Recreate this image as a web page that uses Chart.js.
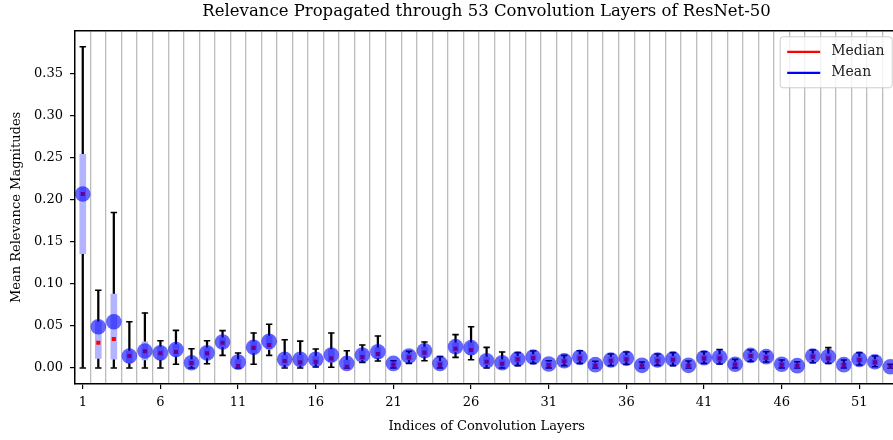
<!DOCTYPE html>
<html>
<head>
<meta charset="utf-8">
<script src="https://cdn.jsdelivr.net/npm/chart.js@4/dist/chart.umd.min.js"></script>
<style>
  html, body { margin: 0; padding: 0; overflow: hidden; background: #fff; }
  canvas { display: block; }
</style>
</head>
<body>
<canvas id="relevance-chart" width="906" height="440"></canvas>
<script>
// layer indices 1..53
const layers = Array.from({ length: 53 }, (_, i) => i + 1);

// per layer stats of relevance magnitudes
const whiskerLow = [0, 0, 0, 0, 0, 0, 0.0044, 0, 0.005, 0.015, 0, 0.0044, 0.015, 0, 0, 0.0012, 0.001, 0, 0.0067, 0.0083,
  0, 0.0055, 0.0087, 0, 0.0127, 0.0099, 0, 0, 0.0028, 0.0055, 0, 0.0028, 0.0055, 0, 0.0028, 0.0044, 0, 0.0032, 0.0028, 0,
  0.0055, 0.0048, 0, 0.008, 0.0071, 0, 0, 0.0063, 0.0055, 0, 0.0036, 0.0016, 0];
const whiskerHigh = [0.382, 0.0925, 0.185, 0.055, 0.0655, 0.0325, 0.0448, 0.023, 0.0325, 0.0445, 0.0178, 0.0417, 0.052, 0.0337, 0.032, 0.0226, 0.0417, 0.0206, 0.0274, 0.038,
  0.0087, 0.0198, 0.031, 0.0135, 0.0397, 0.049, 0.0246, 0.019, 0.0183, 0.0202, 0.0087, 0.015, 0.0206, 0.008, 0.0167, 0.019, 0.0071, 0.0167, 0.0183, 0.0083,
  0.0194, 0.022, 0.0103, 0.0214, 0.0194, 0.0095, 0.0075, 0.0214, 0.0242, 0.0095, 0.0183, 0.0143, 0.0044];
const quartileLow = [0.136, 0.0115, 0.0104, 0.006, 0.0095, 0.010, 0.014, 0.003, 0.012, 0.025, 0.001, 0.018, 0.022, 0.004, 0.003, 0.005, 0.007, 0.001, 0.010, 0.012,
  0.002, 0.010, 0.014, 0.002, 0.019, 0.016, 0.004, 0.002, 0.007, 0.009, 0.002, 0.006, 0.009, 0.001, 0.006, 0.008, 0.001, 0.006, 0.007, 0.001,
  0.009, 0.008, 0.002, 0.011, 0.010, 0.002, 0.001, 0.010, 0.009, 0.002, 0.007, 0.004, 0.0005];
const quartileHigh = [0.254, 0.055, 0.088, 0.020, 0.031, 0.025, 0.028, 0.010, 0.024, 0.036, 0.010, 0.031, 0.038, 0.015, 0.015, 0.014, 0.022, 0.009, 0.020, 0.024,
  0.007, 0.017, 0.025, 0.008, 0.030, 0.030, 0.013, 0.010, 0.014, 0.016, 0.007, 0.011, 0.016, 0.006, 0.013, 0.015, 0.005, 0.013, 0.014, 0.005,
  0.015, 0.016, 0.007, 0.018, 0.016, 0.007, 0.005, 0.017, 0.017, 0.006, 0.013, 0.010, 0.003];
const medians = [0.207, 0.030, 0.0345, 0.0143, 0.020, 0.0175, 0.019, 0.006, 0.0175, 0.030, 0.0024, 0.024, 0.0274, 0.0083, 0.0067, 0.0075, 0.0115, 0.0016, 0.013, 0.0167,
  0.004, 0.0127, 0.0183, 0.004, 0.023, 0.0214, 0.0075, 0.005, 0.0103, 0.012, 0.0036, 0.008, 0.0115, 0.0028, 0.0087, 0.0103, 0.003, 0.0087, 0.0099, 0.003,
  0.0115, 0.0115, 0.004, 0.0143, 0.0123, 0.004, 0.0025, 0.0135, 0.0115, 0.0038, 0.0095, 0.0067, 0.0015];
const means = [0.207, 0.049, 0.055, 0.0143, 0.0202, 0.018, 0.022, 0.0063, 0.018, 0.031, 0.007, 0.0246, 0.0317, 0.0103, 0.0103, 0.0103, 0.0155, 0.0055, 0.0155, 0.0194,
  0.0055, 0.0143, 0.0206, 0.0055, 0.0254, 0.0242, 0.0087, 0.0063, 0.0107, 0.013, 0.0048, 0.0087, 0.0127, 0.004, 0.0095, 0.0115, 0.0032, 0.0095, 0.0107, 0.0032,
  0.0123, 0.0127, 0.0044, 0.015, 0.0135, 0.0044, 0.0028, 0.0143, 0.0135, 0.004, 0.0103, 0.0075, 0.0016];

const xTicks = [1, 6, 11, 16, 21, 26, 31, 36, 41, 46, 51];
const yTicks = [0, 0.05, 0.10, 0.15, 0.20, 0.25, 0.30, 0.35];
const gridLines = layers.slice(0, 52).map(v => v + 0.5);

const serif = '"DejaVu Serif", serif';

// legend box in the upper right corner of the plot
const cornerLegend = {
  id: 'cornerLegend',
  afterDraw(chart) {
    const { ctx, chartArea } = chart;
    const right = chartArea.right - 6, top = chartArea.top + 6;
    const w = 112, h = 51;
    const left = right - w;
    ctx.save();
    ctx.beginPath();
    ctx.roundRect(left, top, w, h, 3);
    ctx.fillStyle = 'rgba(255,255,255,0.8)';
    ctx.fill();
    ctx.strokeStyle = '#cccccc';
    ctx.lineWidth = 1;
    ctx.stroke();
    const items = [['Median', '#ff0000'], ['Mean', '#0000ff']];
    ctx.font = '14px ' + serif;
    ctx.textBaseline = 'middle';
    items.forEach(([label, color], i) => {
      const y = top + 15 + i * 21;
      ctx.beginPath();
      ctx.moveTo(left + 7, y);
      ctx.lineTo(left + 40, y);
      ctx.strokeStyle = color;
      ctx.lineWidth = 2.2;
      ctx.stroke();
      ctx.fillStyle = '#222';
      ctx.fillText(label, left + 51, y);
    });
    ctx.restore();
  }
};

new Chart(document.getElementById('relevance-chart'), {
  type: 'scatter',
  data: {
    datasets: [
      {
        label: 'Mean',
        data: layers.map((x, i) => ({ x, y: means[i] })),
        pointRadius: 7.8,
        pointBackgroundColor: 'rgba(0,0,255,0.6)',
        pointBorderWidth: 0,
        order: 0
      },
      {
        label: 'Median',
        data: layers.map((x, i) => ({ x, y: medians[i] })),
        pointStyle: 'rect',
        pointRadius: 2.9,
        pointBackgroundColor: '#ff0000',
        pointBorderWidth: 0,
        order: 1
      },
      {
        type: 'bar',
        label: 'IQR',
        data: layers.map((x, i) => ({ x, y: [quartileLow[i], quartileHigh[i]] })),
        backgroundColor: '#b3b3ff',
        barThickness: 6,
        grouped: false,
        order: 2
      },
      {
        label: 'caps',
        data: layers.map((x, i) => ({ x, y: whiskerLow[i] }))
          .concat(layers.map((x, i) => ({ x, y: whiskerHigh[i] }))),
        pointStyle: 'line',
        pointRadius: 3.2,
        pointBorderColor: '#000',
        pointBorderWidth: 1.6,
        order: 3
      },
      {
        type: 'bar',
        label: 'range',
        data: layers.map((x, i) => ({ x, y: [whiskerLow[i], whiskerHigh[i]] })),
        backgroundColor: '#000',
        barThickness: 1.6,
        grouped: false,
        order: 4
      }
    ]
  },
  options: {
    responsive: false,
    animation: false,
    events: [],
    layout: { padding: { left: 0, right: 3, top: 0, bottom: 0 } },
    plugins: {
      legend: { display: false },
      tooltip: { enabled: false },
      title: {
        display: true,
        fullSize: false,
        text: 'Relevance Propagated through 53 Convolution Layers of ResNet-50',
        color: '#000',
        font: { family: serif, size: 16.5, weight: 'normal' },
        padding: { top: 2, bottom: 9 }
      }
    },
    scales: {
      x: {
        type: 'linear',
        position: 'bottom',
        offset: false,
        min: 0.5,
        max: 53.5,
        afterBuildTicks: axis => { axis.ticks = xTicks.map(value => ({ value })); },
        afterFit: axis => { axis.height = 56; },
        ticks: {
          autoSkip: false,
          maxRotation: 0,
          padding: 6,
          color: '#000',
          font: { family: serif, size: 13 },
          callback: v => String(v)
        },
        grid: { offset: false, drawOnChartArea: false, drawTicks: true, tickLength: 5, color: '#000', lineWidth: 1.2 },
        border: { display: true, color: '#000', width: 1.5 },
        title: {
          display: true,
          text: 'Indices of Convolution Layers',
          color: '#000',
          font: { family: serif, size: 13 },
          padding: { top: 0, bottom: 6 }
        }
      },
      x2: {
        type: 'linear',
        position: 'top',
        offset: false,
        min: 0.5,
        max: 53.5,
        afterBuildTicks: axis => { axis.ticks = gridLines.map(value => ({ value })); },
        afterFit: axis => { axis.height = 0; },
        ticks: { display: false },
        grid: { offset: false, drawTicks: false, color: '#bcbcbc', lineWidth: 1.3 },
        border: { display: true, color: '#000', width: 1.5 }
      },
      y: {
        type: 'linear',
        min: -0.019,
        max: 0.401,
        afterBuildTicks: axis => { axis.ticks = yTicks.map(value => ({ value })); },
        afterFit: axis => { axis.width = 75; },
        ticks: {
          padding: 7,
          color: '#000',
          font: { family: serif, size: 13 },
          callback: v => v.toFixed(2)
        },
        grid: { drawOnChartArea: false, drawTicks: true, tickLength: 5, color: '#000', lineWidth: 1.2 },
        border: { display: true, color: '#000', width: 1.5 },
        title: {
          display: true,
          text: 'Mean Relevance Magnitudes',
          color: '#000',
          font: { family: serif, size: 13 },
          padding: { top: 9, bottom: 0 }
        }
      }
    }
  },
  plugins: [cornerLegend]
});
</script>
</body>
</html>
